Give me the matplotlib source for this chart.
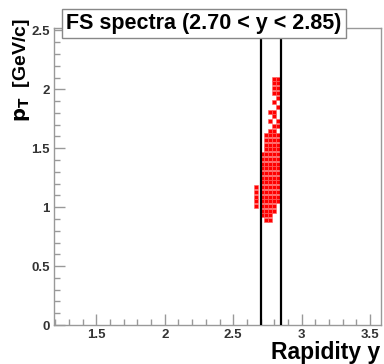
import matplotlib.pyplot as plt
from matplotlib.ticker import MultipleLocator

plt.rcParams['font.family'] = ['Liberation Sans', 'DejaVu Sans']

# rapidity window
y_lo = 2.70
y_hi = 2.85

# red boxes: one column of pT values per rapidity bin
col_y = [2.67, 2.71, 2.74, 2.77, 2.80, 2.83]
col_pt = [
    [1.01, 1.05, 1.09, 1.13, 1.17],
    [0.93, 0.97, 1.01, 1.05, 1.09, 1.13, 1.17, 1.21, 1.25, 1.29, 1.33, 1.37, 1.41, 1.45],
    [0.89, 0.93, 0.97, 1.01, 1.05, 1.09, 1.13, 1.17, 1.21, 1.25, 1.29, 1.33, 1.37, 1.41,
     1.45, 1.49, 1.53, 1.57, 1.61],
    [0.89, 0.93, 0.97, 1.01, 1.05, 1.09, 1.13, 1.17, 1.21, 1.25, 1.29, 1.33, 1.37, 1.41,
     1.45, 1.49, 1.53, 1.57, 1.61, 1.65, 1.73, 1.81],
    [0.97, 1.01, 1.05, 1.09, 1.13, 1.17, 1.21, 1.25, 1.29, 1.33, 1.37, 1.41, 1.45, 1.49,
     1.53, 1.57, 1.61, 1.65, 1.69, 1.77, 1.81, 1.89, 1.97, 2.01, 2.05, 2.09],
    [1.05, 1.09, 1.13, 1.17, 1.21, 1.25, 1.29, 1.33, 1.37, 1.41, 1.45, 1.49, 1.53, 1.57,
     1.61, 1.69, 1.73, 1.85, 1.93, 1.97, 2.01, 2.05, 2.09],
]

fig = plt.figure(figsize=(3.84, 3.64), dpi=100)
ax = fig.add_axes([0.1406, 0.107, 0.8514, 0.816])

for yc, pts in zip(col_y, col_pt):
    ax.plot([yc] * len(pts), pts, ls='none', marker='s', ms=2.6, mfc='red',
            mec='#ff6060', mew=0.4, zorder=3)

ax.axvline(y_lo, color='black', lw=1.6, zorder=4)
ax.axvline(y_hi, color='black', lw=1.6, zorder=4)

ax.set_xlim(1.19, 3.58)
ax.set_ylim(0, 2.52)
ax.xaxis.set_minor_locator(MultipleLocator(0.1))
ax.yaxis.set_minor_locator(MultipleLocator(0.1))
ax.set_xticks([1.5, 2, 2.5, 3, 3.5])
ax.set_xticklabels(['1.5', '2', '2.5', '3', '3.5'])
ax.set_yticks([0, 0.5, 1, 1.5, 2, 2.5])
ax.set_yticklabels(['0', '0.5', '1', '1.5', '2', '2.5'])
ax.tick_params(which='both', direction='in', color='#999999', width=1,
               labelsize=9.5)
ax.tick_params(which='major', length=8, pad=3)
ax.tick_params(which='minor', length=4)
for lab in ax.get_xticklabels() + ax.get_yticklabels():
    lab.set_fontweight('bold')
    lab.set_color('#333333')
for s in ax.spines.values():
    s.set_color('#999999')
    s.set_linewidth(1)

fig.text(0.99, 0.0, 'Rapidity y', ha='right', va='bottom', fontsize=16.5,
         fontweight='bold')
fig.text(0.055, 0.95, r'$\mathbf{p_T}$  [GeV/c]', ha='center', va='top',
         rotation=90, fontsize=14, fontweight='bold')

fig.text(0.53, 0.935, 'FS spectra (2.70 < y < 2.85)', ha='center',
         va='center', fontsize=15.5, fontweight='bold', zorder=10,
         bbox=dict(boxstyle='square,pad=0.2', fc='white', ec='#888888', lw=1))

fig.savefig('out.png', dpi=100)
